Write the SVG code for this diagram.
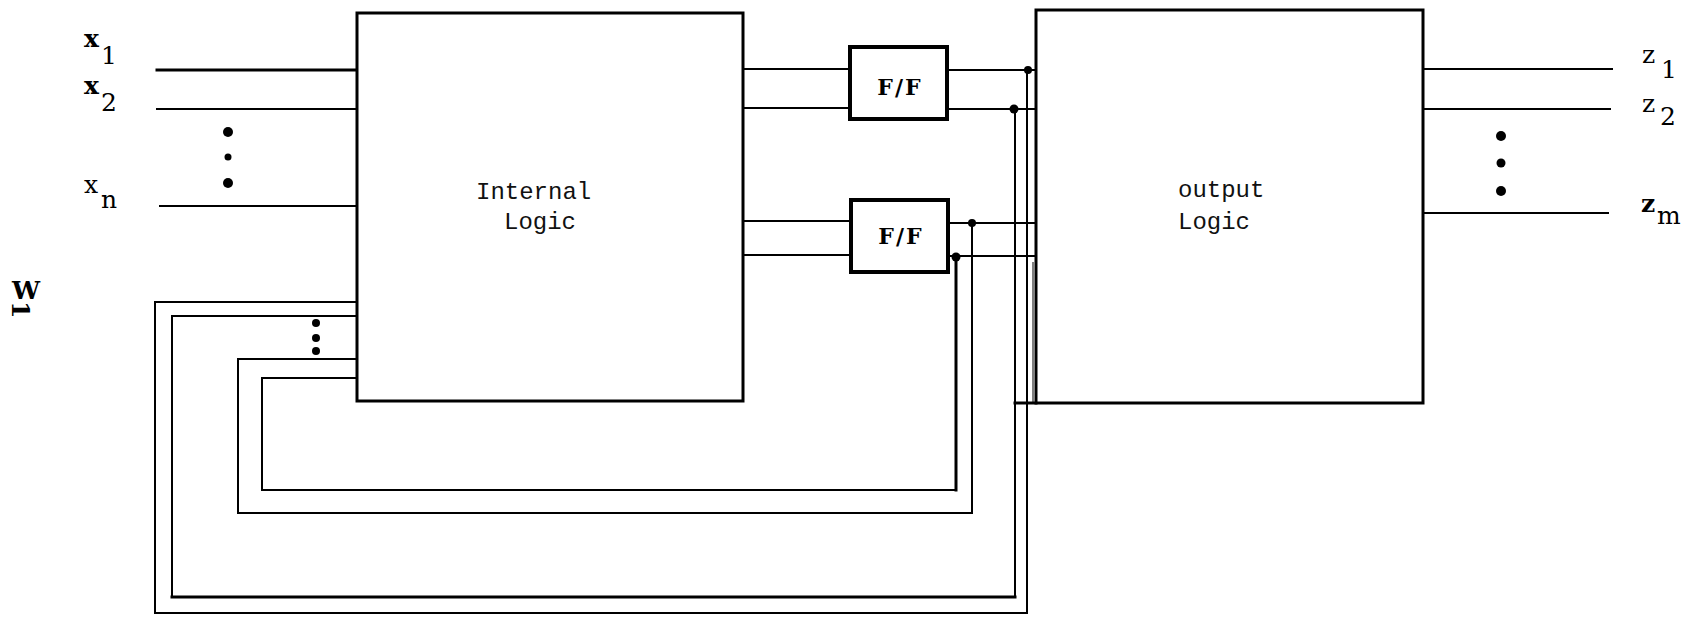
<svg xmlns="http://www.w3.org/2000/svg" width="1688" height="617" viewBox="0 0 1688 617">
<style>
.w{stroke:#000;stroke-width:2;fill:none;stroke-linecap:square}
.t{stroke-width:3}
.box{fill:#fff;stroke:#000;stroke-width:3}
.ff{fill:#fff;stroke:#000;stroke-width:4}
.mono{font-family:"Liberation Mono",monospace;font-size:24px;fill:#111}
.ser{font-family:"DejaVu Serif","Liberation Serif",serif;font-size:25px;fill:#000}
.b{font-weight:bold}
.ffl{font-family:"DejaVu Serif","Liberation Serif",serif;font-size:22px;font-weight:bold;letter-spacing:2px;text-anchor:middle}
</style>
<rect width="1688" height="617" fill="#fff"/>
<g id="connectors">
  <path class="w t" d="M157,70 H357"/>
  <path class="w" d="M157,109 H357"/>
  <path class="w" d="M160,206 H357"/>
  <path class="w" d="M743,69 H850 M743,108 H850 M947,70 H1034 M947,109 H1034"/>
  <path class="w" d="M743,221 H851 M743,255 H851 M948,223 H1034 M948,256 H1034"/>
  <path class="w" d="M357,302 H155 V613 H1027 V70"/>
  <path class="w" d="M357,316 H172 V597 H1015 V109"/>
  <path class="w t" d="M172,597 H1015"/>
  <path class="w" d="M357,359 H238 V513 H972 V223"/>
  <path class="w" d="M357,378 H262 V490 H956"/>
  <path class="w t" d="M956,490 V257"/>
  <path class="w t" d="M1015,403 H1036"/>
  <path stroke="#000" stroke-width="1" d="M1033,262 V403"/>
  <circle cx="1028" cy="70" r="4"/>
  <circle cx="1014" cy="109" r="4.5"/>
  <circle cx="972" cy="223" r="4"/>
  <circle cx="956" cy="257" r="4.5"/>
  <circle cx="228" cy="132" r="5"/>
  <circle cx="228" cy="157" r="3.5"/>
  <circle cx="228" cy="183" r="5"/>
  <circle cx="316" cy="323" r="4"/>
  <circle cx="316" cy="338" r="4"/>
  <circle cx="316" cy="351" r="4"/>
  <path class="w" d="M1423,69 H1612 M1423,109 H1610 M1423,213 H1608"/>
  <circle cx="1501" cy="136" r="5"/>
  <circle cx="1501" cy="163" r="4.5"/>
  <circle cx="1501" cy="191" r="5"/>
</g>
<g id="internal-logic">
  <rect class="box" x="357" y="13" width="386" height="388"/>
  <text class="mono" x="476" y="199">Internal</text>
  <text class="mono" x="504" y="229">Logic</text>
</g>
<g id="ff1">
  <rect class="ff" x="850" y="47" width="97" height="72"/>
  <text class="ffl" x="900" y="95">F/F</text>
</g>
<g id="ff2">
  <rect class="ff" x="851" y="200" width="97" height="72"/>
  <text class="ffl" x="901" y="244">F/F</text>
</g>
<g id="output-logic">
  <rect class="box" x="1036" y="10" width="387" height="393" stroke-width="3.5"/>
  <text class="mono" x="1178" y="197">output</text>
  <text class="mono" x="1178" y="229">Logic</text>
</g>
<g id="labels">
  <text class="ser b" x="84" y="47">x</text><text class="ser" x="101" y="64">1</text>
  <text class="ser b" x="84" y="94">x</text><text class="ser" x="101" y="111">2</text>
  <text class="ser" x="84" y="193">x</text><text class="ser" x="101" y="208">n</text>
  <text class="ser" x="1642" y="63">z</text><text class="ser" x="1661" y="78">1</text>
  <text class="ser" x="1642" y="112">z</text><text class="ser" x="1660" y="125">2</text>
  <text class="ser b" x="1641" y="212">z</text><text class="ser" x="1657" y="224">m</text>
  <text class="ser b" x="12" y="299" font-size="17">W</text>
  <text class="ser b" font-size="19" transform="translate(12,301) rotate(90)">1</text>
</g>
</svg>
